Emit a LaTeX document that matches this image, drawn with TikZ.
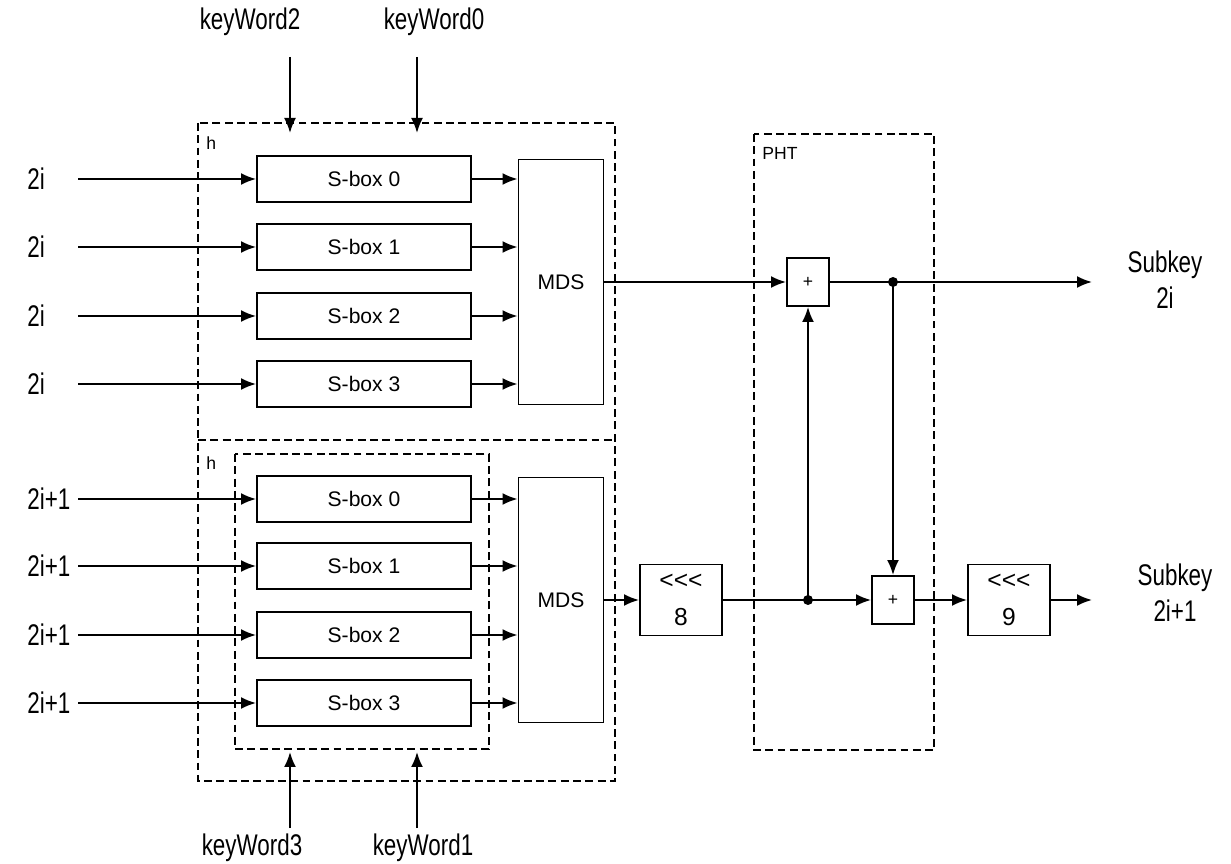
\documentclass[tikz,border=0pt]{standalone}
\usepackage{fontspec}
\setmainfont{Liberation Sans}
\newfontfamily\lblfont[FakeStretch=0.75]{Liberation Sans}
\usetikzlibrary{arrows.meta}
\tikzset{
  box/.style={draw,line width=1.1pt,inner sep=0pt,font=\fontsize{12}{14}\selectfont},
  sbox/.style={box,minimum width=4.28cm,minimum height=0.92cm},
  mds/.style={box,minimum width=1.7cm,minimum height=4.9cm},
  rot/.style={box,minimum width=1.64cm,minimum height=1.42cm,align=center,font=\fontsize{14}{21}\selectfont},
  add/.style={box,minimum width=0.84cm,minimum height=0.96cm,font=\fontsize{10}{12}\selectfont},
  lbl/.style={inner sep=0pt,align=center,font=\lblfont\fontsize{17}{20.5}\selectfont},
  tag/.style={inner sep=0pt,anchor=west,font=\fontsize{10}{12}\selectfont},
  grp/.style={draw,line width=1.2pt,dash pattern=on 4.5pt off 2.5pt},
  arr/.style={line width=1.1pt,-{Latex[length=3mm,width=2.4mm]}},
  wire/.style={line width=1.1pt},
  dot/.style={circle,fill,inner sep=0pt,minimum size=0.2cm},
}
\begin{document}
\begin{tikzpicture}[x=0.02cm,y=-0.02cm]
  \useasboundingbox (0,0) rectangle (1231,864);
  % dashed groups
  \draw[grp] (198,123) rectangle (615,781);
  \draw[grp] (198,440) -- (615,440);
  \draw[grp] (235,454) rectangle (489,749);
  \draw[grp,line width=1pt] (754,134) rectangle (934,750);
  \node[tag] (hU) at (206,143) {h};
  \node[tag] (hL) at (206,463) {h};
  \node[tag] (pht) at (762,153) {PHT};
  % upper h: S-boxes and MDS
  \node[mds] (mu) at (561,282) {MDS};
  \foreach \k/\y in {0/179,1/247,2/316,3/384}{
    \node[sbox] (su\k) at (364,\y) {S-box \k};
    \node[lbl,anchor=west] (iu\k) at (27,\y) {2i};
    \coordinate (cu\k) at (78,\y);
    \draw[arr] (cu\k) -- (su\k.west);
    \draw[arr] (su\k.east) -- (su\k.east -| mu.west);
  }
  % lower h: S-boxes and MDS
  \node[mds] (ml) at (561,600) {MDS};
  \foreach \k/\y in {0/499,1/566,2/635,3/703}{
    \node[sbox] (sl\k) at (364,\y) {S-box \k};
    \node[lbl,anchor=west] (il\k) at (27,\y) {2i+1};
    \coordinate (cl\k) at (78,\y);
    \draw[arr] (cl\k) -- (sl\k.west);
    \draw[arr] (sl\k.east) -- (sl\k.east -| ml.west);
  }
  % key words
  \node[lbl] (kw2) at (250,22) {keyWord2}; \node[lbl] (kw0) at (434,22) {keyWord0};
  \node[lbl] (kw3) at (252,848) {keyWord3}; \node[lbl] (kw1) at (423,848) {keyWord1};
  \coordinate (k2a) at (290,57); \coordinate (k2b) at (290,133);
  \coordinate (k0a) at (417,57); \coordinate (k0b) at (417,133);
  \coordinate (k3a) at (290,828); \coordinate (k3b) at (290,752);
  \coordinate (k1a) at (417,828); \coordinate (k1b) at (417,752);
  \foreach \a in {k2,k0,k3,k1} \draw[arr] (\a a) -- (\a b);
  % PHT and rotations
  \node[add] (pu) at (808,282) {+};
  \node[dot] (d1) at (893,282) {};
  \coordinate (ou) at (1092,282);
  \node[lbl] (sk0) at (1165,280) {Subkey\\2i};
  \node[rot] (r8) at (681,600) {<{}<{}<\\8};
  \node[dot] (d2) at (808,600) {};
  \node[add] (pl) at (893,600) {+};
  \node[rot] (r9) at (1009,600) {<{}<{}<\\9};
  \coordinate (ol) at (1092,600);
  \node[lbl] (sk1) at (1175,593) {Subkey\\2i+1};
  \draw[arr] (mu.east) -- (pu.west);
  \draw[wire] (pu.east) -- (d1.center); \draw[arr] (d1.center) -- (ou);
  \draw[arr] (ml.east) -- (r8.west);
  \draw[wire] (r8.east) -- (d2.center); \draw[arr] (d2.center) -- (pl.west);
  \draw[arr] (pl.east) -- (r9.west); \draw[arr] (r9.east) -- (ol);
  \draw[arr] (d2.center) -- (pu.south);
  \draw[arr] (d1.center) -- (pl.north);
\end{tikzpicture}
\end{document}
